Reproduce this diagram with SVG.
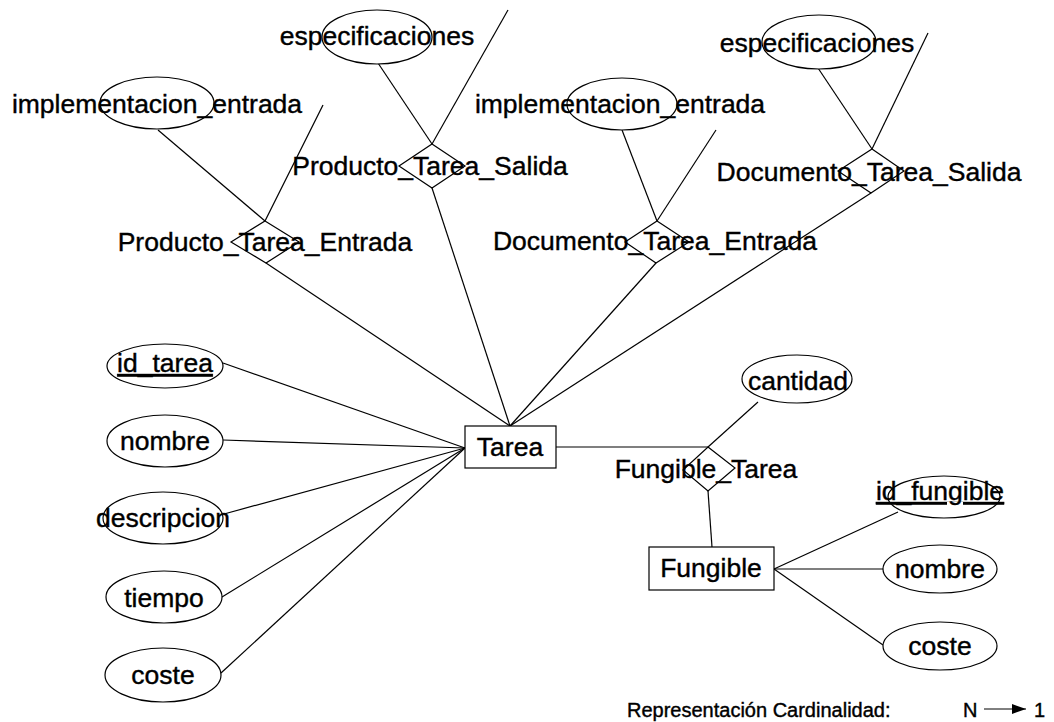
<svg xmlns="http://www.w3.org/2000/svg" width="1054" height="722" viewBox="0 0 1054 722">
  <defs>
    <style>
      .shape { fill: #fff; stroke: #000; stroke-width: 1.2; }
      .rel { fill: none; stroke: #000; stroke-width: 1.2; }
      .lbl { font-family: "Liberation Sans", Arial, sans-serif; font-size: 26.5px; fill: #000; stroke: #000; stroke-width: 0.4; text-anchor: middle; }
      .key { text-decoration: underline; }
      .legend { font-family: "Liberation Sans", Arial, sans-serif; font-size: 20px; fill: #000; stroke: #000; stroke-width: 0.4; }
      #connectors line { stroke: #000; stroke-width: 1.2; }
    </style>
    <marker id="arrowhead" viewBox="0 0 14 10" refX="14" refY="5" markerWidth="14" markerHeight="10" markerUnits="userSpaceOnUse" orient="auto">
      <path d="M0,0 L14,5 L0,10 Z" fill="#000"/>
    </marker>
  </defs>
  <rect width="1054" height="722" fill="#fff"/>

  <!-- connectors -->
  <g id="connectors">
    <!-- Producto_Tarea_Entrada -->
    <line x1="158" y1="130" x2="265" y2="221"/>
    <line x1="323" y1="105" x2="265" y2="221"/>
    <line x1="266" y1="263" x2="510" y2="426"/>
    <!-- Producto_Tarea_Salida -->
    <line x1="378" y1="63" x2="432" y2="144"/>
    <line x1="508" y1="10" x2="432" y2="144"/>
    <line x1="432" y1="188" x2="510" y2="426"/>
    <!-- Documento_Tarea_Entrada -->
    <line x1="622" y1="130" x2="657" y2="221"/>
    <line x1="716" y1="130" x2="657" y2="221"/>
    <line x1="656" y1="263" x2="510" y2="426"/>
    <!-- Documento_Tarea_Salida -->
    <line x1="818" y1="68" x2="872" y2="149"/>
    <line x1="928" y1="33" x2="872" y2="149"/>
    <line x1="871" y1="193" x2="510" y2="426"/>
    <!-- Tarea attributes -->
    <line x1="465" y1="448" x2="223" y2="363"/>
    <line x1="465" y1="448" x2="223" y2="440"/>
    <line x1="465" y1="448" x2="224" y2="514"/>
    <line x1="465" y1="448" x2="222" y2="597"/>
    <line x1="465" y1="448" x2="221" y2="673"/>
    <!-- Fungible_Tarea -->
    <line x1="556" y1="447" x2="708" y2="447"/>
    <line x1="708" y1="447" x2="758" y2="402"/>
    <line x1="708" y1="491" x2="712" y2="547"/>
    <!-- Fungible attributes -->
    <line x1="774" y1="569" x2="898" y2="512"/>
    <line x1="774" y1="569" x2="883" y2="569"/>
    <line x1="774" y1="569" x2="883" y2="645"/>
  </g>

  <!-- relationships -->
  <g id="producto_tarea_entrada">
    <polygon class="rel" points="265,221 299,242 266,263 231,242"/>
    <text class="lbl" x="265" y="251">Producto_Tarea_Entrada</text>
  </g>
  <g id="producto_tarea_salida">
    <polygon class="rel" points="432,144 465,166 432,188 399,166"/>
    <text class="lbl" x="430" y="175">Producto_Tarea_Salida</text>
  </g>
  <g id="documento_tarea_entrada">
    <polygon class="rel" points="657,221 689,242 656,263 625,242"/>
    <text class="lbl" x="655" y="250">Documento_Tarea_Entrada</text>
  </g>
  <g id="documento_tarea_salida">
    <polygon class="rel" points="872,149 904,171 871,193 838,171"/>
    <text class="lbl" x="869" y="181">Documento_Tarea_Salida</text>
  </g>
  <g id="fungible_tarea">
    <polygon class="rel" points="708,447 735,468 708,491 683,470"/>
    <text class="lbl" x="706" y="478">Fungible_Tarea</text>
  </g>

  <!-- relationship attributes -->
  <g id="impl_entrada_producto">
    <ellipse class="shape" cx="157" cy="103" rx="57" ry="26"/>
    <text class="lbl" x="157" y="113">implementacion_entrada</text>
  </g>
  <g id="espec_producto">
    <ellipse class="shape" cx="377" cy="37" rx="55" ry="27"/>
    <text class="lbl" x="377" y="45">especificaciones</text>
  </g>
  <g id="impl_entrada_documento">
    <ellipse class="shape" cx="622" cy="104" rx="55" ry="26"/>
    <text class="lbl" x="620" y="113">implementacion_entrada</text>
  </g>
  <g id="espec_documento">
    <ellipse class="shape" cx="819" cy="42" rx="57" ry="27"/>
    <text class="lbl" x="817" y="52">especificaciones</text>
  </g>
  <g id="cantidad">
    <ellipse class="shape" cx="797" cy="379" rx="55" ry="24"/>
    <text class="lbl" x="798" y="390">cantidad</text>
  </g>

  <!-- entity Tarea -->
  <g id="tarea">
    <rect class="shape" x="465" y="426" width="91" height="42"/>
    <text class="lbl" x="510" y="456">Tarea</text>
  </g>
  <g id="tarea_id">
    <ellipse class="shape" cx="165" cy="366" rx="58" ry="22"/>
    <text class="lbl key" x="165" y="372">id_tarea</text>
  </g>
  <g id="tarea_nombre">
    <ellipse class="shape" cx="165" cy="441" rx="58" ry="26"/>
    <text class="lbl" x="165" y="450">nombre</text>
  </g>
  <g id="tarea_descripcion">
    <ellipse class="shape" cx="163" cy="518" rx="60" ry="26"/>
    <text class="lbl" x="163" y="527">descripcion</text>
  </g>
  <g id="tarea_tiempo">
    <ellipse class="shape" cx="164" cy="597" rx="58" ry="26"/>
    <text class="lbl" x="164" y="607">tiempo</text>
  </g>
  <g id="tarea_coste">
    <ellipse class="shape" cx="163" cy="675" rx="58" ry="27"/>
    <text class="lbl" x="163" y="684">coste</text>
  </g>

  <!-- entity Fungible -->
  <g id="fungible">
    <rect class="shape" x="649" y="547" width="125" height="43"/>
    <text class="lbl" x="711" y="577">Fungible</text>
  </g>
  <g id="fungible_id">
    <ellipse class="shape" cx="944" cy="497" rx="56" ry="21"/>
    <text class="lbl key" x="940" y="500">id_fungible</text>
  </g>
  <g id="fungible_nombre">
    <ellipse class="shape" cx="940" cy="569" rx="57" ry="24"/>
    <text class="lbl" x="940" y="578">nombre</text>
  </g>
  <g id="fungible_coste">
    <ellipse class="shape" cx="940" cy="646" rx="57" ry="24"/>
    <text class="lbl" x="940" y="655">coste</text>
  </g>

  <!-- cardinality legend -->
  <g id="legend">
    <text class="legend" x="627" y="717">Representación Cardinalidad:</text>
    <text class="legend" x="963" y="717">N</text>
    <line x1="984" y1="709" x2="1026" y2="709" stroke="#000" stroke-width="1" marker-end="url(#arrowhead)"/>
    <text class="legend" x="1034" y="717">1</text>
  </g>
</svg>
